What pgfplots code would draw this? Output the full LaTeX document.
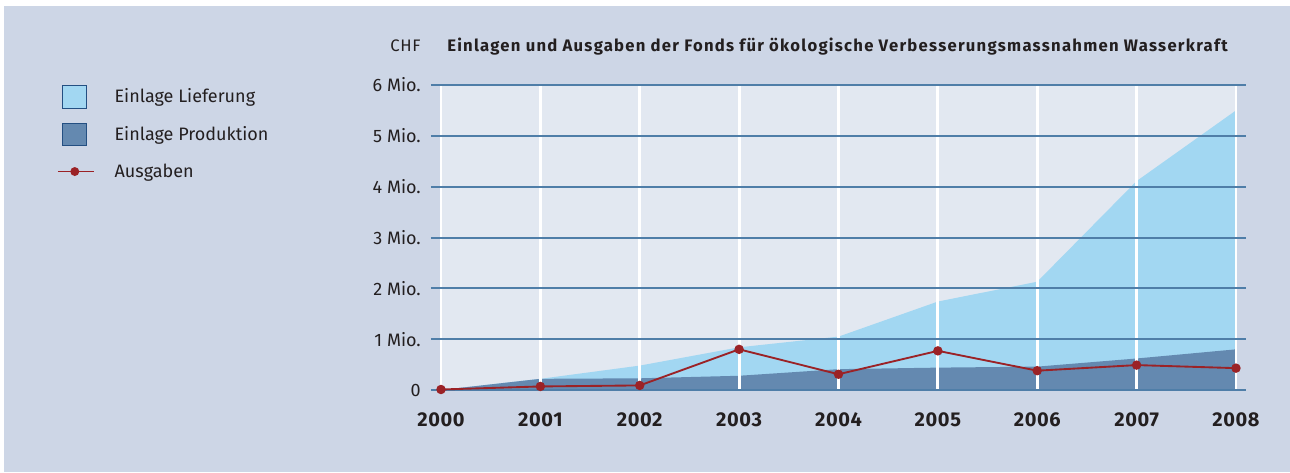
\documentclass[border=0pt]{standalone}
\usepackage{pgfplots}
\pgfplotsset{compat=1.18}
\usepackage{fontspec}
\setmainfont{Fira Sans}
\definecolor{bgblue}{HTML}{CDD6E6}
\definecolor{plotbg}{HTML}{E2E8F1}
\definecolor{lightarea}{HTML}{A2D7F2}
\definecolor{darkarea}{HTML}{6489B0}
\definecolor{gridblue}{HTML}{4F7EA8}
\definecolor{legborder}{HTML}{234F82}
\definecolor{redline}{HTML}{9B2226}
\definecolor{txt}{HTML}{231F20}
\begin{document}
\begin{tikzpicture}
\fill[white] (-330.75pt,-61.5pt) rectangle (636.75pt,292.5pt);
\fill[bgblue] (-327.75pt,-61.5pt) rectangle (636.75pt,288pt);
\fill[plotbg] (0pt,0pt) rectangle (596.25pt,228.75pt);
\begin{axis}[
  name=ax,
  at={(0pt,0pt)}, anchor=south west,
  scale only axis,
  width=596.25pt, height=228.75pt,
  xmin=2000, xmax=2008, ymin=0, ymax=6,
  xtick={2000,2001,2002,2003,2004,2005,2006,2007,2008},
  xticklabels={2000,2001,2002,2003,2004,2005,2006,2007,2008},
  ytick={0,1,2,3,4,5,6},
  yticklabels={0,1 Mio.,2 Mio.,3 Mio.,4 Mio.,5 Mio.,6 Mio.},
  axis line style={draw=none},
  tick align=outside,
  major tick length=7.5pt,
  xtick style={draw=none},
  ytick style={gridblue, line width=1.5pt},
  yticklabel style={font=\fontsize{13.5}{15}\selectfont, text=txt, inner sep=0pt, xshift=-7.5pt},
  xticklabel style={font=\fontsize{15}{17}\selectfont\bfseries\addfontfeatures{LetterSpace=3}, text=txt, anchor=base, yshift=-20pt},
  clip=false,
  legend cell align=left,
  legend style={draw=none, fill=none, inner sep=0pt, outer sep=0pt,
    at={(0,1)}, anchor=north west, xshift=-288pt,
    row sep=10.4pt, column sep=15pt,
    font=\fontsize{13.5}{15}\selectfont,
    nodes={inner sep=0pt, text height=13pt, text depth=4pt, text=txt}},
]
\addplot[fill=lightarea, draw=none,
  legend image code/.code={\draw[fill=lightarea, draw=legborder, line width=0.8pt] (0pt,-8.5pt) rectangle (18pt,8.5pt);}]
  coordinates {(2000,0) (2001,0.22) (2002,0.48) (2003,0.84) (2004,1.05) (2005,1.74) (2006,2.13) (2007,4.11) (2008,5.50)} \closedcycle;
\addlegendentry{Einlage Lieferung}
\addplot[fill=darkarea, draw=none,
  legend image code/.code={\draw[fill=darkarea, draw=legborder, line width=0.8pt] (0pt,-8.5pt) rectangle (18pt,8.5pt);}]
  coordinates {(2000,0) (2001,0.22) (2002,0.23) (2003,0.28) (2004,0.41) (2005,0.44) (2006,0.46) (2007,0.62) (2008,0.80)} \closedcycle;
\addlegendentry{Einlage Produktion}
\pgfplotsinvokeforeach{2000,...,2008}{\draw[white, line width=2.2pt] (axis cs:#1,0) -- (axis cs:#1,6);}
\pgfplotsinvokeforeach{0,...,6}{\draw[gridblue, line width=1.5pt] ([xshift=-7.5pt]axis cs:2000,#1) -- ([xshift=0.8pt]axis cs:2008,#1);}
\addplot[redline, line width=1.4pt, mark=*, mark size=2.8pt, mark options={fill=redline, draw=redline},
  legend image code/.code={\draw[redline, line width=1.2pt] (-3.75pt,0pt) -- (23.25pt,0pt); \fill[redline] (9pt,0pt) circle (2.6pt);}]
  coordinates {(2000,0.01) (2001,0.07) (2002,0.09) (2003,0.80) (2004,0.31) (2005,0.77) (2006,0.38) (2007,0.49) (2008,0.43)};
\addlegendentry{Ausgaben}
\end{axis}
\node[anchor=base west, inner sep=0pt, text=txt, font=\fontsize{12.5}{14}\selectfont\addfontfeatures{LetterSpace=4}] at (-38.25pt,253.5pt) {CHF};
\node[anchor=base west, inner sep=0pt, text=txt, font=\fontsize{12.5}{14}\selectfont\bfseries\addfontfeatures{LetterSpace=7.5}] at (4.5pt,253.5pt) {Einlagen und Ausgaben der Fonds für ökologische Verbesserungsmassnahmen Wasserkraft};
\pgfresetboundingbox
\path (-330.75pt,-61.5pt) rectangle (636.75pt,292.5pt);
\end{tikzpicture}
\end{document}
